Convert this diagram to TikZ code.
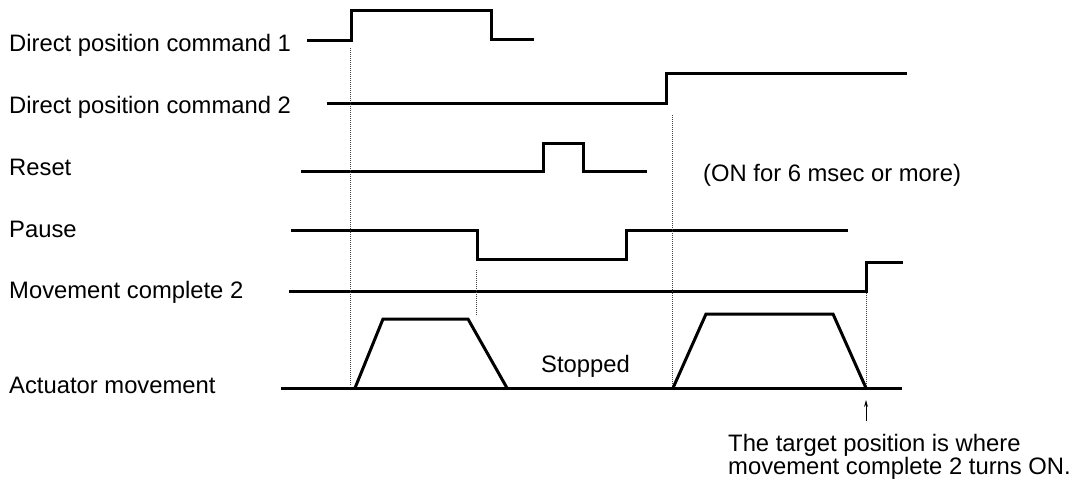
\documentclass[tikz,border=0pt]{standalone}
\usepackage{fontspec}
\setmainfont{Liberation Sans}
\usetikzlibrary{arrows.meta}

\begin{document}
\begin{tikzpicture}[
    x=1pt,y=-1pt,
    lbl/.style={anchor=base west,inner sep=0pt,
                font=\fontsize{23.8}{26}\selectfont},
    wave/.style={line width=3pt,line join=miter},
    guide/.style={line width=1pt,dash pattern=on 1pt off 1pt,black!75},
    pointer/.style={line width=0.9pt,-{Stealth[length=7pt,width=4pt]}}]
  \useasboundingbox (0,0) rectangle (1075,483);
  \node[lbl] (dpc1) at (9,51) {Direct position command 1};
  \node[lbl] (dpc2) at (9,113) {Direct position command 2};
  \node[lbl] (rst)  at (9,175) {Reset};
  \node[lbl] (pse)  at (9,237) {Pause};
  \node[lbl] (mvc)  at (9,298) {Movement complete 2};
  \node[lbl] (act)  at (9,393) {Actuator movement};
  \node[lbl] (ontime) at (703,181) {(ON for 6 msec or more)};
  \node[lbl] (stop) at (541,372) {Stopped};
  \node[lbl] (note1) at (728,451) {The target position is where};
  \node[lbl] (note2) at (728,474) {movement complete 2 turns ON.};
  \draw[wave] (307,40) -- (351,40) -- (351,10) -- (491,10) -- (491,39) -- (534,39);
  \draw[wave] (327,103) -- (666,103) -- (666,73) -- (907,73);
  \draw[wave] (301,171) -- (543,171) -- (543,143) -- (583,143) -- (583,171) -- (647,171);
  \draw[wave] (291,230) -- (477,230) -- (477,259) -- (626,259) -- (626,230) -- (848,230);
  \draw[wave] (289,291) -- (866,291) -- (866,262) -- (903,262);
  \draw[wave] (281,388) -- (902,388);
  \draw[wave] (355,388) -- (383,319) -- (468,319) -- (507,388);
  \draw[wave] (673,388) -- (706,314) -- (833,314) -- (866,388);
  \draw[guide] (350,48) -- (350,386);
  \draw[guide] (672,115) -- (672,386);
  \draw[guide] (476,270) -- (476,316);
  \draw[guide] (866,293) -- (866,386);
  \coordinate (foot) at (866,421);
  \coordinate (tip) at (866,400);
  \draw[pointer] (foot) -- (tip);
\end{tikzpicture}
\end{document}
